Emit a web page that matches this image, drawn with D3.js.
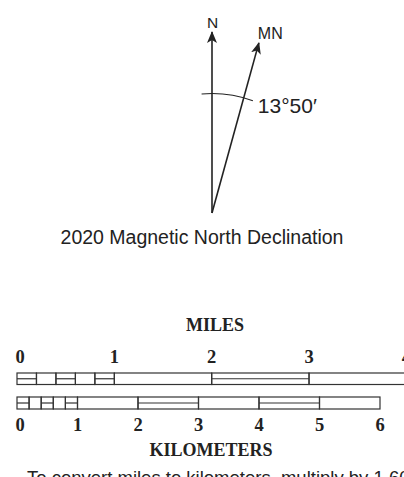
<!DOCTYPE html>
<html><head><meta charset="utf-8">
<script src="https://cdn.jsdelivr.net/npm/d3@7"></script>
<style>html,body{margin:0;padding:0;background:#fff;overflow:hidden}</style>
</head><body>
<script>
// ---- data ----
const northLabel = "N";
const magLabel = "MN";
const declinationLabel = "13°50′";
const declinationDrawAngle = 15.4; // degrees as drawn in the picture
const caption = "2020 Magnetic North Declination";
const mileTicks = [0, 1, 2, 3, 4];
const mileBreaks = [0, 0.2, 0.4, 0.6, 0.8, 1, 2, 3, 4];
const mileDouble = [1, 0, 1, 0, 1, 0, 1, 0];
const kmTicks = [0, 1, 2, 3, 4, 5, 6];
const kmBreaks = [0, 0.2, 0.4, 0.6, 0.8, 1, 2, 3, 4, 5, 6];
const kmDouble = [1, 0, 1, 0, 1, 0, 1, 0, 1, 0];
const milesTitle = "MILES";
const kmTitle = "KILOMETERS";
const note = "To convert miles to kilometers, multiply by 1.609";
const KM_PER_MILE = 1.609;

const W = 404, H = 477;
const ink = "#222";
const svg = d3.select("body").append("svg").attr("width", W).attr("height", H);

// ---- compass ----
const apex = [212, 213];
const rScale = d3.scaleLinear().domain([0, 1]).range([0, 181]);
const defs = svg.append("defs");
defs.append("marker").attr("id", "ah").attr("viewBox", "0 0 12 10")
  .attr("refX", 11).attr("refY", 5).attr("markerWidth", 12).attr("markerHeight", 10)
  .attr("markerUnits", "userSpaceOnUse").attr("orient", "auto")
  .append("path").attr("d", "M0,0 L12,5 L0,10 L3,5 Z").attr("fill", ink);

const g = svg.append("g").attr("transform", `translate(${apex[0]},${apex[1]})`);
const pt = (deg, r) => [r * Math.sin(deg * Math.PI / 180), -r * Math.cos(deg * Math.PI / 180)];
const nTip = pt(0, rScale(1));
const mTip = pt(declinationDrawAngle, rScale(0.975));
g.append("line").attr("x1", 0).attr("y1", 0).attr("x2", nTip[0]).attr("y2", nTip[1])
  .attr("stroke", ink).attr("stroke-width", 1.6).attr("marker-end", "url(#ah)");
g.append("line").attr("x1", 0).attr("y1", 0).attr("x2", mTip[0]).attr("y2", mTip[1])
  .attr("stroke", ink).attr("stroke-width", 1.6).attr("marker-end", "url(#ah)");
const arc = d3.arc().innerRadius(rScale(0.66)).outerRadius(rScale(0.66))
  .startAngle(-5 * Math.PI / 180).endAngle((declinationDrawAngle + 4.6) * Math.PI / 180);
g.append("path").attr("d", arc()).attr("fill", "none").attr("stroke", ink).attr("stroke-width", 1.1);

const sans = "'Liberation Sans', Arial, sans-serif";
g.append("text").attr("x", nTip[0] + 0.5).attr("y", nTip[1] - 4).attr("text-anchor", "middle")
  .attr("font-family", sans).attr("font-size", 15.5).attr("fill", ink).text(northLabel);
g.append("text").attr("x", mTip[0] - 1).attr("y", mTip[1] - 4)
  .attr("font-family", sans).attr("font-size", 16).attr("fill", ink).text(magLabel);
const lp = pt(declinationDrawAngle + 4.6, rScale(0.66));
g.append("text").attr("x", lp[0] + 5).attr("y", lp[1] + 12.5)
  .attr("font-family", sans).attr("font-size", 21).attr("fill", ink).text(declinationLabel);

svg.append("text").attr("x", 202).attr("y", 244).attr("text-anchor", "middle")
  .attr("font-family", sans).attr("font-size", 19.5).attr("fill", ink).text(caption);

// ---- scale bars ----
const x0 = 17, kmPx = 60.5;
const xKm = d3.scaleLinear().domain([0, 6]).range([x0, x0 + 6 * kmPx]);
const xMi = d3.scaleLinear().domain([0, 4]).range([x0, x0 + 4 * KM_PER_MILE * kmPx]);
const serif = "'Liberation Serif', 'Times New Roman', serif";

function bar(scale, breaks, dbl, y, h) {
  const bg = svg.append("g");
  const segs = d3.range(breaks.length - 1).map(i => ({ a: breaks[i], b: breaks[i + 1], d: dbl[i] }));
  bg.selectAll("rect").data(segs).join("rect")
    .attr("x", d => scale(d.a)).attr("y", y).attr("width", d => scale(d.b) - scale(d.a)).attr("height", h)
    .attr("fill", "none").attr("stroke", "#333").attr("stroke-width", 1.2);
  bg.selectAll("line").data(segs.filter(d => d.d)).join("line")
    .attr("x1", d => scale(d.a)).attr("x2", d => scale(d.b)).attr("y1", y + h / 2).attr("y2", y + h / 2)
    .attr("stroke", "#333").attr("stroke-width", 1.2);
}
bar(xMi, mileBreaks, mileDouble, 373, 11.5);
bar(xKm, kmBreaks, kmDouble, 397, 12);

svg.append("g").selectAll("text").data(mileTicks).join("text")
  .attr("x", d => xMi(d) + (d === 0 ? 3 : 0)).attr("y", 363).attr("text-anchor", "middle")
  .attr("font-family", serif).attr("font-weight", "bold").attr("font-size", 18.5).attr("fill", ink)
  .text(d => d);
svg.append("g").selectAll("text").data(kmTicks).join("text")
  .attr("x", d => xKm(d) + (d === 0 ? 3 : 0)).attr("y", 431).attr("text-anchor", "middle")
  .attr("font-family", serif).attr("font-weight", "bold").attr("font-size", 18.5).attr("fill", ink)
  .text(d => d);
svg.append("text").attr("x", 215).attr("y", 331).attr("text-anchor", "middle")
  .attr("font-family", serif).attr("font-weight", "bold").attr("font-size", 18).attr("fill", ink).text(milesTitle);
svg.append("text").attr("x", 211).attr("y", 456).attr("text-anchor", "middle")
  .attr("font-family", serif).attr("font-weight", "bold").attr("font-size", 18).attr("fill", ink).text(kmTitle);
svg.append("text").attr("x", 27).attr("y", 484)
  .attr("font-family", sans).attr("font-size", 18.5).attr("fill", ink).text(note);
</script>
</body></html>
